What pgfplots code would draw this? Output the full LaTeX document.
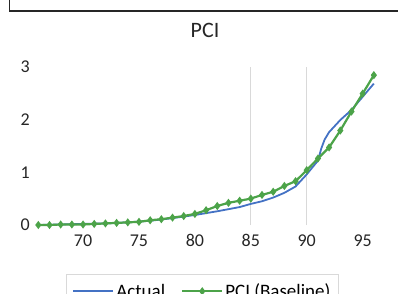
\documentclass[border=0pt]{standalone}
\usepackage{pgfplots}
\pgfplotsset{compat=1.18}
\usepackage{fontspec}
\setmainfont{Carlito}
\definecolor{xblue}{RGB}{68,114,196}
\definecolor{xgreen}{RGB}{76,163,73}
\definecolor{xgrid}{RGB}{217,217,217}
\begin{document}
\begin{tikzpicture}[x=1pt,y=1pt]
\begin{axis}[
  at={(37.2pt,68pt)}, anchor=south west,
  scale only axis, width=340pt, height=158.3pt,
  xmin=65.9, xmax=96.3, ymin=0, ymax=3,
  clip=false,
  axis line style={draw=none},
  major tick length=0pt,
  xtick={70,75,80,85,90,95},
  ytick={0,1,2,3},
  extra x ticks={85,90},
  extra x tick labels={},
  extra x tick style={grid=major, grid style={xgrid, line width=1.2pt}},
  tick label style={font=\fontsize{18}{21}\selectfont, text=black!85},
  /pgf/number format/assume math mode=true,
  xticklabel style={yshift=-6pt},
  yticklabel style={xshift=-4pt},
  legend columns=2,
  legend style={at={(0.0847,-0.31)}, anchor=north west, draw=xgrid, line width=1pt,
    font=\fontsize{19}{22}\selectfont, inner xsep=6pt, inner ysep=7pt,
    /tikz/every even column/.append style={column sep=14pt}},
  legend image code/.code={\draw[mark repeat=2,mark phase=2,#1] plot coordinates {(0pt,0pt) (20pt,0pt) (40pt,0pt)};},
]
\addplot[xblue, line width=1.8pt, no markers] coordinates {
(66,0.00) (68,0.01) (70,0.02) (72,0.03) (74,0.05) (76,0.08) (78,0.13) (80,0.19)
(82,0.26) (84,0.34) (85,0.40) (86,0.45) (87,0.52) (88,0.61) (89,0.73) (90,0.96)
(91,1.22) (91.3,1.45) (91.6,1.62) (92,1.76) (93,1.99) (94,2.18) (95,2.43) (96,2.68)
};
\addlegendentry{Actual}
\addplot[xgreen, line width=2.2pt, mark=diamond*, mark size=2.3pt, mark options={solid}] coordinates {
(66,0.00) (67,0.00) (68,0.01) (69,0.01) (70,0.01) (71,0.02) (72,0.03) (73,0.04)
(74,0.05) (75,0.06) (76,0.09) (77,0.11) (78,0.14) (79,0.17) (80,0.21) (81,0.28)
(82,0.36) (83,0.42) (84,0.46) (85,0.50) (86,0.57) (87,0.63) (88,0.74) (89,0.83)
(90,1.04) (91,1.26) (92,1.47) (93,1.79) (94,2.15) (95,2.49) (96,2.84)
};
\addlegendentry{PCI (Baseline)}
\end{axis}
\node[font=\fontsize{22}{26}\selectfont, text=black!85] at (205pt,263pt) {PCI};
\draw[black!85, line width=1.5pt] (9.5pt,300pt) -- (9.5pt,282pt) -- (405pt,282pt);
\pgfresetboundingbox
\path[use as bounding box] (0pt,0pt) rectangle (398pt,293pt);
\end{tikzpicture}
\end{document}
